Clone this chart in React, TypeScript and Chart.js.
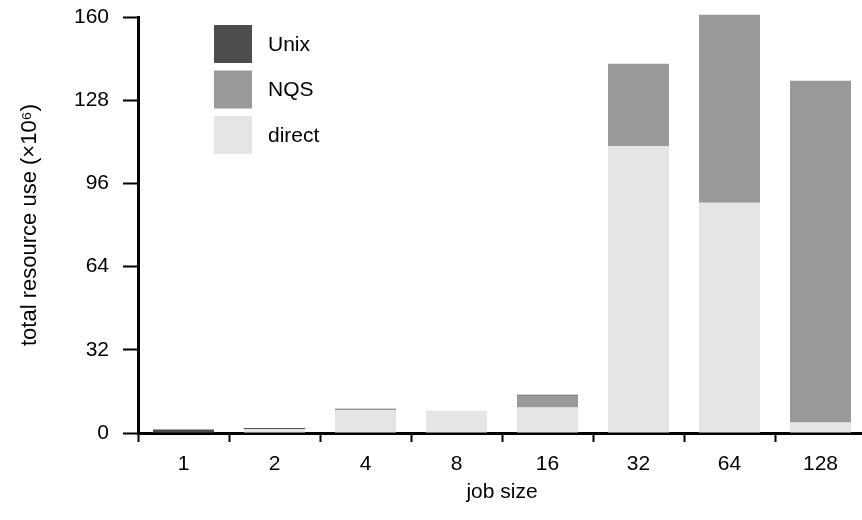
import React, { useEffect, useRef } from "react";
import { Chart, registerables } from "chart.js";

Chart.register(...registerables);

const jobSizes = ["1", "2", "4", "8", "16", "32", "64", "128"];
const directUse = [0, 1.5, 8.95, 8.6, 9.85, 110.4, 88.6, 4.0];
const nqsUse = [0, 0, 0, 0, 4.5, 31.6, 72.3, 131.5];
const unixUse = [1.3, 0.4, 0.4, 0, 0.4, 0, 0, 0];
const yTicks = [0, 32, 64, 96, 128, 160];

const FONT = "'Liberation Sans', Arial, sans-serif";

// Legend drawn inside the plot area, top-left, listing the stack from top to bottom.
const insideLegend = {
  id: "insideLegend",
  afterDraw(chart: any) {
    const { ctx, chartArea } = chart;
    const items = chart.data.datasets.slice().reverse();
    const x0 = chartArea.left + 76;
    const y0 = chartArea.top + 8;
    const box = 38;
    const step = 45.5;
    ctx.save();
    ctx.font = `21px ${FONT}`;
    ctx.textBaseline = "middle";
    ctx.textAlign = "left";
    items.forEach((ds: any, i: number) => {
      const y = y0 + i * step;
      ctx.fillStyle = ds.backgroundColor;
      ctx.fillRect(x0, y, box, box);
      ctx.fillStyle = "#000";
      ctx.fillText(ds.label, x0 + 54, y + box / 2 + 1);
    });
    ctx.restore();
  },
};

export default function App() {
  const canvasRef = useRef<HTMLCanvasElement | null>(null);

  useEffect(() => {
    const canvas = canvasRef.current;
    if (!canvas) return;
    const chart = new Chart(canvas, {
      type: "bar",
      data: {
        labels: jobSizes,
        datasets: [
          { label: "direct", data: directUse, backgroundColor: "#e5e5e5" },
          { label: "NQS", data: nqsUse, backgroundColor: "#999999" },
          { label: "Unix", data: unixUse, backgroundColor: "#4d4d4d" },
        ],
      },
      options: {
        responsive: false,
        animation: false,
        devicePixelRatio: 1,
        layout: { padding: { top: 17, right: 4, left: 0, bottom: 0 } },
        datasets: {
          bar: {
            barPercentage: 0.67,
            categoryPercentage: 1,
            borderWidth: 0,
            clip: false as any,
          },
        },
        plugins: {
          legend: { display: false },
          tooltip: { enabled: false },
        },
        scales: {
          x: {
            stacked: true,
            offset: true,
            afterFit: (s: any) => {
              s.height = 87;
            },
            grid: {
              offset: true,
              drawOnChartArea: false,
              drawTicks: true,
              tickLength: 9,
              tickWidth: 2,
              tickColor: "#000",
            },
            border: { display: true, color: "#000", width: 3 },
            ticks: {
              color: "#000",
              font: { family: FONT, size: 21 },
              padding: 10,
              maxRotation: 0,
            },
            title: {
              display: true,
              text: "job size",
              color: "#000",
              font: { family: FONT, size: 21 },
              padding: { top: 0, bottom: 15 },
            },
          },
          y: {
            stacked: true,
            min: 0,
            max: 160,
            afterFit: (s: any) => {
              s.width = 138;
              s.paddingTop = 0;
              s.paddingBottom = 0;
            },
            afterBuildTicks: (s: any) => {
              s.ticks = yTicks.map((v) => ({ value: v }));
            },
            grid: {
              drawOnChartArea: false,
              drawTicks: true,
              tickLength: 15,
              tickWidth: 2,
              tickColor: "#000",
            },
            border: { display: true, color: "#000", width: 3 },
            ticks: {
              color: "#000",
              font: { family: FONT, size: 21 },
              padding: 14,
            },
            title: {
              display: true,
              text: "total resource use (×10⁶)",
              color: "#000",
              font: { family: FONT, size: 22 },
              padding: { top: 17, bottom: 0 },
            },
          },
        },
      },
      plugins: [insideLegend],
    });
    return () => chart.destroy();
  }, []);

  return (
    <div
      style={{
        position: "fixed",
        left: 0,
        top: 0,
        width: 862,
        height: 520,
        overflow: "hidden",
        background: "#fff",
      }}
    >
      <canvas ref={canvasRef} width={870} height={520} style={{ display: "block" }} />
    </div>
  );
}
